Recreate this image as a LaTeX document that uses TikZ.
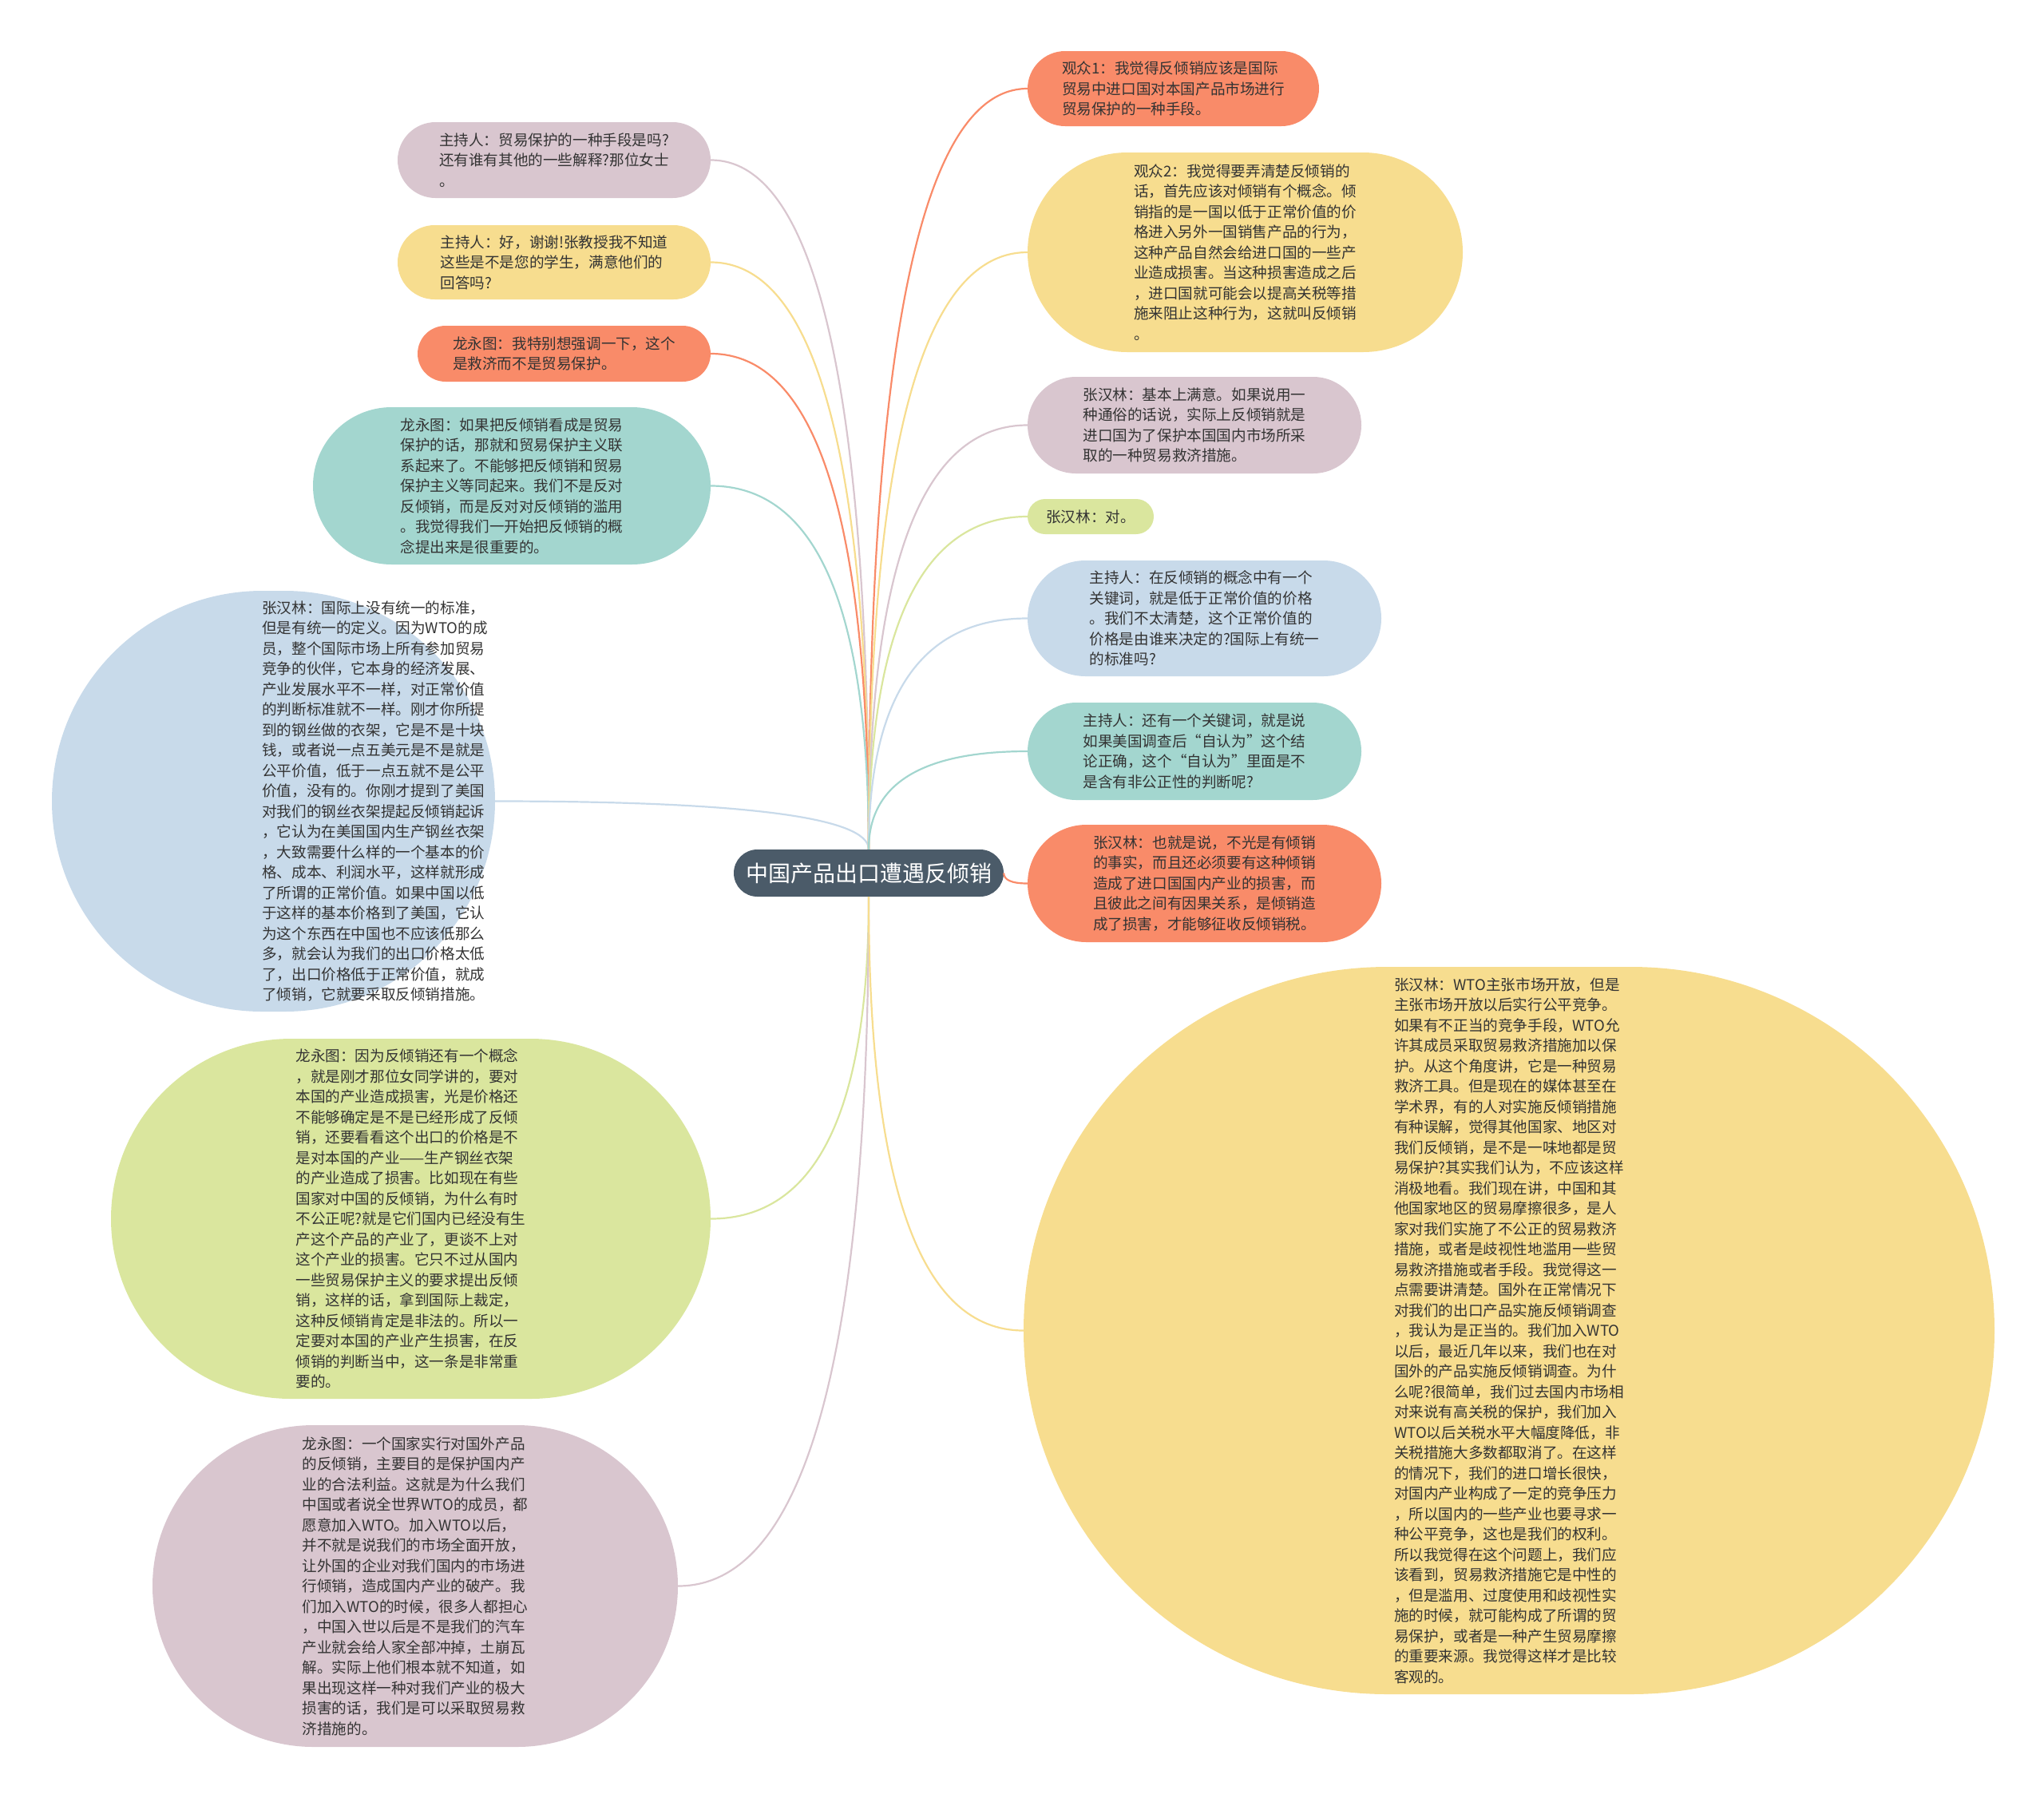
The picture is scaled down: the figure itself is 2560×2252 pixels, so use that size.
\documentclass[tikz,border=0pt]{standalone}
\usepackage{fontspec}
\setmainfont{Noto Sans CJK SC}
\usetikzlibrary{calc}

\definecolor{topicgray}{HTML}{4B5B69}
\definecolor{textgray}{HTML}{333333}
\definecolor{coral}{HTML}{F98B69}
\definecolor{sand}{HTML}{F7DD8F}
\definecolor{mauve}{HTML}{D9C6CF}
\definecolor{seafoam}{HTML}{A3D6CF}
\definecolor{skyblue}{HTML}{C8DAEA}
\definecolor{lime}{HTML}{DAE69E}

\tikzset{
  bubble/.style n args={3}{fill=#1, minimum width=#2, minimum height=#3,
    rounded corners=#3/2, inner sep=0pt, align=left, text=textgray,
    font=\fontsize{18.6}{25.5}\selectfont},
  words/.style={inner sep=0pt, align=left, text=textgray,
    font=\fontsize{18.6}{25.5}\selectfont},
  branch/.style={line width=2.2pt, draw=#1,
    to path={.. controls ($(\tikztostart)!0.667!(\tikztostart |- \tikztotarget)$)
      and ($(\tikztotarget)!0.667!(\tikztostart |- \tikztotarget)$) .. (\tikztotarget)}}
}

\begin{document}
\begin{tikzpicture}[x=1pt,y=-1pt]
\useasboundingbox (0,0) rectangle (2560,2252);

\node[fill=topicgray, minimum width=338, minimum height=59, rounded corners=29.5,
  text=white, font=\fontsize{28}{32}\selectfont] (topic) at (1088,1093.5) {中国产品出口遭遇反倾销};

% left side
\node[bubble={mauve}{392}{95}] (host1) at (694,200.5) {主持人：贸易保护的一种手段是吗?\\还有谁有其他的一些解释?那位女士\\。};
\node[bubble={sand}{392}{93}] (host2) at (694,328.5) {主持人：好，谢谢!张教授我不知道\\这些是不是您的学生，满意他们的\\回答吗?};
\node[bubble={coral}{367}{70}] (long1) at (706.5,443) {龙永图：我特别想强调一下，这个\\是救济而不是贸易保护。};
\node[bubble={seafoam}{498}{197}] (long2) at (641,608.5) {龙永图：如果把反倾销看成是贸易\\保护的话，那就和贸易保护主义联\\系起来了。不能够把反倾销和贸易\\保护主义等同起来。我们不是反对\\反倾销，而是反对对反倾销的滥用\\。我觉得我们一开始把反倾销的概\\念提出来是很重要的。};
\node[bubble={skyblue}{555}{527}] (zhang1) at (342.5,1003.5) {};
\node[words, anchor=west] (zhang1text) at (328,1003.5) {张汉林：国际上没有统一的标准，\\但是有统一的定义。因为WTO的成\\员，整个国际市场上所有参加贸易\\竞争的伙伴，它本身的经济发展、\\产业发展水平不一样，对正常价值\\的判断标准就不一样。刚才你所提\\到的钢丝做的衣架，它是不是十块\\钱，或者说一点五美元是不是就是\\公平价值，低于一点五就不是公平\\价值，没有的。你刚才提到了美国\\对我们的钢丝衣架提起反倾销起诉\\，它认为在美国国内生产钢丝衣架\\，大致需要什么样的一个基本的价\\格、成本、利润水平，这样就形成\\了所谓的正常价值。如果中国以低\\于这样的基本价格到了美国，它认\\为这个东西在中国也不应该低那么\\多，就会认为我们的出口价格太低\\了，出口价格低于正常价值，就成\\了倾销，它就要采取反倾销措施。};
\node[bubble={lime}{751}{451}] (long3) at (514.5,1526.5) {龙永图：因为反倾销还有一个概念\\，就是刚才那位女同学讲的，要对\\本国的产业造成损害，光是价格还\\不能够确定是不是已经形成了反倾\\销，还要看看这个出口的价格是不\\是对本国的产业——生产钢丝衣架\\的产业造成了损害。比如现在有些\\国家对中国的反倾销，为什么有时\\不公正呢?就是它们国内已经没有生\\产这个产品的产业了，更谈不上对\\这个产业的损害。它只不过从国内\\一些贸易保护主义的要求提出反倾\\销，这样的话，拿到国际上裁定，\\这种反倾销肯定是非法的。所以一\\定要对本国的产业产生损害，在反\\倾销的判断当中，这一条是非常重\\要的。};
\node[bubble={mauve}{658}{403}] (long4) at (520,1986.5) {龙永图：一个国家实行对国外产品\\的反倾销，主要目的是保护国内产\\业的合法利益。这就是为什么我们\\中国或者说全世界WTO的成员，都\\愿意加入WTO。加入WTO以后，\\并不就是说我们的市场全面开放，\\让外国的企业对我们国内的市场进\\行倾销，造成国内产业的破产。我\\们加入WTO的时候，很多人都担心\\，中国入世以后是不是我们的汽车\\产业就会给人家全部冲掉，土崩瓦\\解。实际上他们根本就不知道，如\\果出现这样一种对我们产业的极大\\损害的话，我们是可以采取贸易救\\济措施的。};

% right side
\node[bubble={coral}{365}{94}] (viewer1) at (1469.5,111) {观众1：我觉得反倾销应该是国际\\贸易中进口国对本国产品市场进行\\贸易保护的一种手段。};
\node[bubble={sand}{545}{250}] (viewer2) at (1559.5,316) {观众2：我觉得要弄清楚反倾销的\\话，首先应该对倾销有个概念。倾\\销指的是一国以低于正常价值的价\\格进入另外一国销售产品的行为，\\这种产品自然会给进口国的一些产\\业造成损害。当这种损害造成之后\\，进口国就可能会以提高关税等措\\施来阻止这种行为，这就叫反倾销\\。};
\node[bubble={mauve}{418}{121}] (zhang2) at (1496,532.5) {张汉林：基本上满意。如果说用一\\种通俗的话说，实际上反倾销就是\\进口国为了保护本国国内市场所采\\取的一种贸易救济措施。};
\node[bubble={lime}{158}{44}] (zhang3) at (1366,647) {张汉林：对。};
\node[bubble={skyblue}{443}{145}] (host3) at (1508.5,774.5) {主持人：在反倾销的概念中有一个\\关键词，就是低于正常价值的价格\\。我们不太清楚，这个正常价值的\\价格是由谁来决定的?国际上有统一\\的标准吗?};
\node[bubble={seafoam}{418}{122}] (host4) at (1496,941) {主持人：还有一个关键词，就是说\\如果美国调查后“自认为”这个结\\论正确，这个“自认为”里面是不\\是含有非公正性的判断呢?};
\node[bubble={coral}{443}{147}] (zhang4) at (1508.5,1106.5) {张汉林：也就是说，不光是有倾销\\的事实，而且还必须要有这种倾销\\造成了进口国国内产业的损害，而\\且彼此之间有因果关系，是倾销造\\成了损害，才能够征收反倾销税。};
\node[bubble={sand}{1216}{911}] (zhang5) at (1890,1666.5) {张汉林：WTO主张市场开放，但是\\主张市场开放以后实行公平竞争。\\如果有不正当的竞争手段，WTO允\\许其成员采取贸易救济措施加以保\\护。从这个角度讲，它是一种贸易\\救济工具。但是现在的媒体甚至在\\学术界，有的人对实施反倾销措施\\有种误解，觉得其他国家、地区对\\我们反倾销，是不是一味地都是贸\\易保护?其实我们认为，不应该这样\\消极地看。我们现在讲，中国和其\\他国家地区的贸易摩擦很多，是人\\家对我们实施了不公正的贸易救济\\措施，或者是歧视性地滥用一些贸\\易救济措施或者手段。我觉得这一\\点需要讲清楚。国外在正常情况下\\对我们的出口产品实施反倾销调查\\，我认为是正当的。我们加入WTO\\以后，最近几年以来，我们也在对\\国外的产品实施反倾销调查。为什\\么呢?很简单，我们过去国内市场相\\对来说有高关税的保护，我们加入\\WTO以后关税水平大幅度降低，非\\关税措施大多数都取消了。在这样\\的情况下，我们的进口增长很快，\\对国内产业构成了一定的竞争压力\\，所以国内的一些产业也要寻求一\\种公平竞争，这也是我们的权利。\\所以我觉得在这个问题上，我们应\\该看到，贸易救济措施它是中性的\\，但是滥用、过度使用和歧视性实\\施的时候，就可能构成了所谓的贸\\易保护，或者是一种产生贸易摩擦\\的重要来源。我觉得这样才是比较\\客观的。};

\draw[branch=mauve] (topic.north) to (host1.east);
\draw[branch=sand] (topic.north) to (host2.east);
\draw[branch=coral] (topic.north) to (long1.east);
\draw[branch=seafoam] (topic.north) to (long2.east);
\draw[branch=skyblue] (topic.north) to (zhang1.east);
\draw[branch=lime] (topic.south) to (long3.east);
\draw[branch=mauve] (topic.south) to (long4.east);
\draw[branch=coral] (topic.north) to (viewer1.west);
\draw[branch=sand] (topic.north) to (viewer2.west);
\draw[branch=mauve] (topic.north) to (zhang2.west);
\draw[branch=lime] (topic.north) to (zhang3.west);
\draw[branch=skyblue] (topic.north) to (host3.west);
\draw[branch=seafoam] (topic.north) to (host4.west);
\draw[branch=coral] (topic.east) to (zhang4.west);
\draw[branch=sand] (topic.south) to (zhang5.west);
\end{tikzpicture}
\end{document}
